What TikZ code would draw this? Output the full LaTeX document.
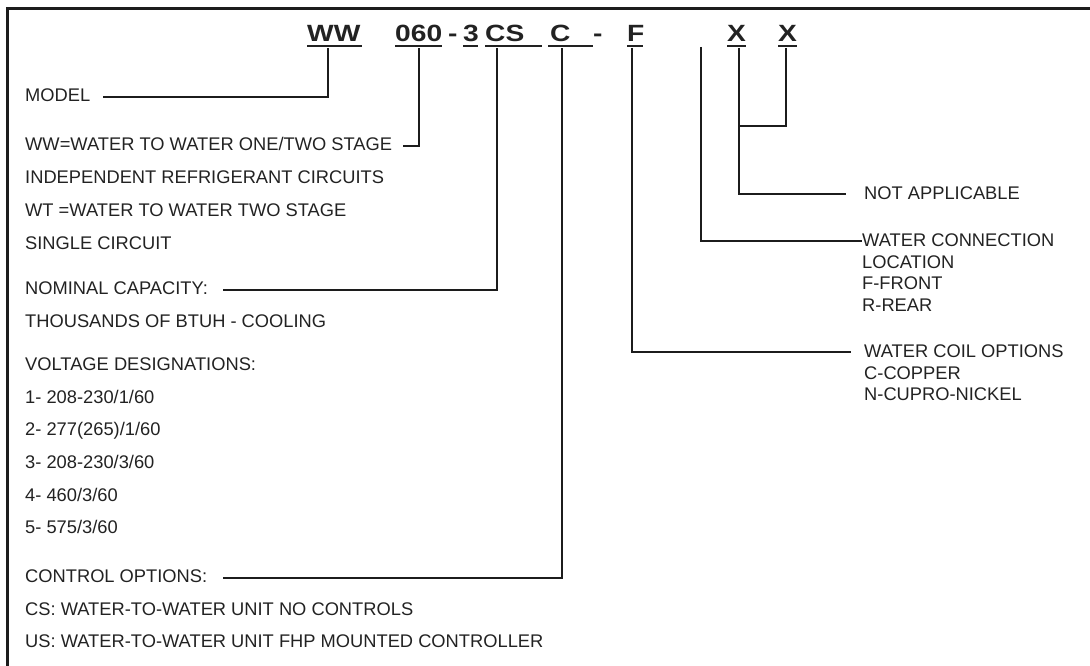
\documentclass[tikz,border=0pt]{standalone}
\usepackage{fontspec}
\setmainfont{Liberation Sans}
\newfontfamily\codefont[FakeStretch=1.2]{Liberation Sans Bold}
\definecolor{ink}{HTML}{222222}
\definecolor{wire}{HTML}{1C1C1C}
\begin{document}
\begin{tikzpicture}[x=1pt,y=-1pt,
  lbl/.style={anchor=base west,inner sep=0pt,text=ink,font=\fontsize{18.3}{21}\selectfont},
  code/.style={anchor=base west,inner sep=0pt,text=ink,font=\codefont\fontsize{23.5}{26}\selectfont},
  uline/.style={draw=ink,line width=2.6pt},
  wire/.style={draw=wire,line width=2pt},
  frame/.style={draw=wire,line width=3pt}]
\useasboundingbox (0,0) rectangle (1090,666);
% frame (open to the right and bottom)
\draw[frame] (7,668) -- (7,9) -- (1092,9);

% code row
\node[code] (cWW) at (307,42) {WW};
\node[code] (c060) at (395,42) {060};
\node[code] (cd1) at (448,42) {-};
\node[code] (c3) at (463,42) {3};
\node[code] (cCS) at (485,42) {CS};
\node[code] (cC) at (550,42) {C};
\node[code] (cd2) at (593,42) {-};
\node[code] (cF) at (627,42) {F};
\node[code] (cX1) at (727,42) {X};
\node[code] (cX2) at (778,42) {X};
% underlines
\draw[uline] (307,46) -- (362,46);
\draw[uline] (395,46) -- (442,46);
\draw[uline] (463,46) -- (478,46);
\draw[uline] (485,46) -- (542,46);
\draw[uline] (548,46) -- (593,46);
\draw[uline] (627,46) -- (643,46);
\draw[uline] (727,46) -- (746,46);
\draw[uline] (778,46) -- (797,46);

% tap points under the code fields
\coordinate (tWW) at (328,48);
\coordinate (t060) at (419,48);
\coordinate (tCS) at (497,48);
\coordinate (tC) at (562,48);
\coordinate (tF) at (632,48);
\coordinate (tB) at (701,47);
\coordinate (tX1) at (739,48);
\coordinate (tX2) at (786,48);
\coordinate (jX) at (739,126.5);

% left column
\node[lbl] (model) at (25,101.7) {MODEL};
\node[lbl] (ww) at (25,151) {WW=WATER TO WATER ONE/TWO STAGE};
\node[lbl] (ind) at (25,183.7) {INDEPENDENT REFRIGERANT CIRCUITS};
\node[lbl] (wt) at (25,216.4) {WT =WATER TO WATER TWO STAGE};
\node[lbl] (single) at (25,249) {SINGLE CIRCUIT};
\node[lbl] (nom) at (25,294.5) {NOMINAL CAPACITY:};
\node[lbl] (thou) at (25,327) {THOUSANDS OF BTUH - COOLING};
\node[lbl] (volt) at (25,370.5) {VOLTAGE DESIGNATIONS:};
\node[lbl] (v1) at (25,403) {1- 208-230/1/60};
\node[lbl] (v2) at (25,435.7) {2- 277(265)/1/60};
\node[lbl] (v3) at (25,468.4) {3- 208-230/3/60};
\node[lbl] (v4) at (25,501) {4- 460/3/60};
\node[lbl] (v5) at (25,533.7) {5- 575/3/60};
\node[lbl] (ctrl) at (25,582.5) {CONTROL OPTIONS:};
\node[lbl] (cs) at (25,615) {CS: WATER-TO-WATER UNIT NO CONTROLS};
\node[lbl] (us) at (25,647.5) {US: WATER-TO-WATER UNIT FHP MOUNTED CONTROLLER};

% right column
\node[lbl] (na) at (864,199.5) {NOT APPLICABLE};
\node[lbl] (wc1) at (862,246.5) {WATER CONNECTION};
\node[lbl] (wc2) at (862,268) {LOCATION};
\node[lbl] (wc3) at (862,289.5) {F-FRONT};
\node[lbl] (wc4) at (862,311) {R-REAR};
\node[lbl] (co1) at (864,357.5) {WATER COIL OPTIONS};
\node[lbl] (co2) at (864,379) {C-COPPER};
\node[lbl] (co3) at (864,400.5) {N-CUPRO-NICKEL};

% connectors, left side
\draw[wire] ([xshift=13pt,yshift=5pt]model.base east) -| (tWW);
\draw[wire] ([xshift=11pt,yshift=4.5pt]ww.base east) -| (t060);
\draw[wire] ([xshift=15pt,yshift=5pt]nom.base east) -| (tCS);
\draw[wire] ([xshift=16pt,yshift=5pt]ctrl.base east) -| (tC);

% connectors, right side
\draw[wire] (tF) |- ([xshift=-13pt,yshift=6pt]co1.base west);
\draw[wire] (tB) |- ([yshift=5.5pt]wc1.base west);
\draw[wire] (tX1) |- ([xshift=-18pt,yshift=6pt]na.base west);
\draw[wire] (tX2) |- (jX);
\end{tikzpicture}
\end{document}
